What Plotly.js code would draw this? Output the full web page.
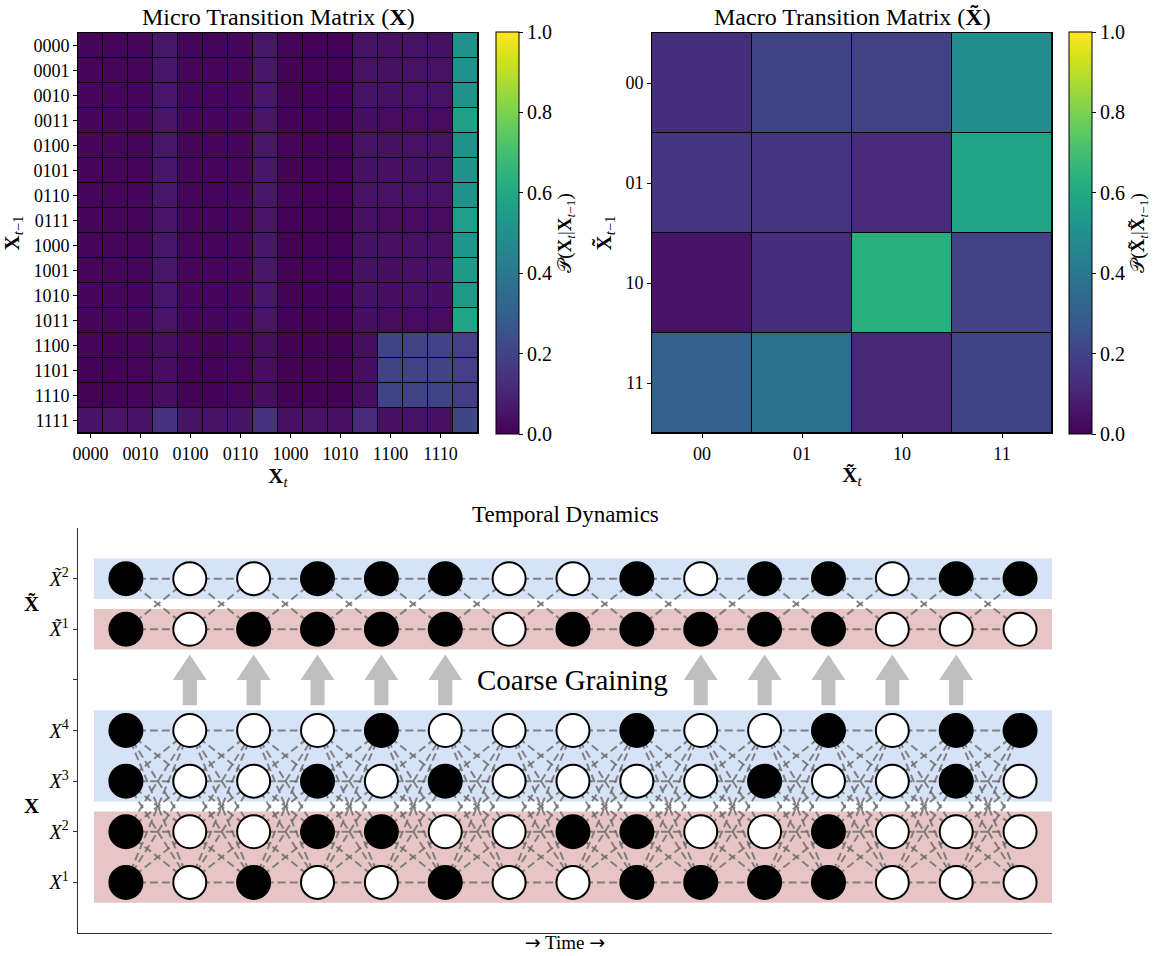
<!DOCTYPE html>
<html><head><meta charset="utf-8">
<script src="https://cdn.plot.ly/plotly-3.0.1.min.js"></script>
<style>html,body{margin:0;padding:0;background:#fff}</style>
</head><body><div id="chart" style="width:1156px;height:956px"></div>
<script>
// ---------------- data ----------------
const microStates = ['0000','0001','0010','0011','0100','0101','0110','0111','1000','1001','1010','1011','1100','1101','1110','1111'];
const microTickStates = ['0000','0010','0100','0110','1000','1010','1100','1110'];
const macroStates = ['00','01','10','11'];
const colorbarTicks = [0, 0.2, 0.4, 0.6, 0.8, 1.0];

// rows = X_{t-1}, columns = X_t
const microMatrix = [
  [0.015,0.012,0.018,0.058,0.016,0.014,0.018,0.058,0.008,0.006,0.005,0.045,0.042,0.046,0.044,0.50],
  [0.014,0.013,0.017,0.057,0.015,0.015,0.017,0.057,0.007,0.006,0.006,0.046,0.044,0.045,0.046,0.50],
  [0.015,0.012,0.017,0.058,0.016,0.014,0.017,0.058,0.007,0.005,0.006,0.045,0.043,0.045,0.045,0.51],
  [0.014,0.012,0.016,0.052,0.014,0.013,0.016,0.052,0.006,0.005,0.004,0.038,0.030,0.030,0.028,0.57],
  [0.015,0.013,0.018,0.058,0.016,0.014,0.018,0.058,0.008,0.006,0.005,0.045,0.044,0.046,0.045,0.50],
  [0.015,0.012,0.017,0.057,0.015,0.014,0.017,0.057,0.007,0.006,0.005,0.044,0.042,0.044,0.043,0.51],
  [0.015,0.013,0.018,0.058,0.016,0.014,0.018,0.058,0.008,0.006,0.005,0.045,0.045,0.046,0.045,0.50],
  [0.014,0.012,0.016,0.053,0.014,0.013,0.016,0.053,0.006,0.005,0.004,0.040,0.031,0.030,0.030,0.56],
  [0.015,0.012,0.017,0.056,0.015,0.014,0.017,0.056,0.007,0.005,0.005,0.043,0.040,0.042,0.041,0.52],
  [0.014,0.012,0.017,0.056,0.015,0.014,0.017,0.056,0.007,0.005,0.005,0.043,0.038,0.040,0.040,0.53],
  [0.014,0.012,0.017,0.056,0.015,0.014,0.017,0.056,0.007,0.005,0.005,0.043,0.038,0.040,0.039,0.53],
  [0.013,0.011,0.016,0.052,0.014,0.013,0.016,0.052,0.006,0.004,0.004,0.038,0.028,0.028,0.027,0.58],
  [0.008,0.006,0.010,0.036,0.008,0.007,0.010,0.036,0.004,0.002,0.003,0.036,0.200,0.200,0.195,0.180],
  [0.006,0.005,0.008,0.034,0.006,0.006,0.009,0.034,0.003,0.002,0.003,0.034,0.200,0.198,0.200,0.180],
  [0.007,0.005,0.009,0.035,0.007,0.006,0.009,0.035,0.003,0.002,0.003,0.035,0.198,0.200,0.198,0.182],
  [0.050,0.052,0.050,0.140,0.050,0.048,0.050,0.140,0.040,0.045,0.042,0.120,0.042,0.045,0.040,0.205]
];

const macroMatrix = [
  [0.13, 0.20, 0.19, 0.49],
  [0.15, 0.15, 0.12, 0.58],
  [0.05, 0.13, 0.63, 0.19],
  [0.31, 0.37, 0.11, 0.20]
];

// temporal dynamics (1 = black, 0 = white), 15 time steps
const x1States  = [1,0,1,0,0,1,0,0,1,1,1,1,0,0,0];
const x2States  = [1,0,0,1,1,0,0,1,1,0,0,1,0,0,0];
const x3States  = [1,0,0,1,0,1,0,0,0,0,1,0,0,1,0];
const x4States  = [1,0,0,0,1,0,0,0,1,0,0,1,0,1,1];
const xt1States = [1,0,1,1,1,1,0,1,1,1,1,1,0,0,0];
const xt2States = [1,0,0,1,1,1,0,0,1,0,1,1,0,1,1];
const arrowSteps = [1,2,3,4,5,9,10,11,12,13];
const layerTickVals = [0,1,2,3,4,5,6];
const layerTickText = ['<i>X</i><sup>1</sup>','<i>X</i><sup>2</sup>','<i>X</i><sup>3</sup>','<i>X</i><sup>4</sup>','','<i>X̃</i><sup>1</sup>','<i>X̃</i><sup>2</sup>'];

// ---------------- build ----------------
const FONT = 'Liberation Serif, DejaVu Serif, serif';
const W = 1156, H = 956;
const idx = a => a.map((_, i) => i);
const nSteps = x1States.length;
const microLayer = [x1States, x2States, x3States, x4States];   // rows 0..3
const macroLayer = [xt1States, xt2States];                       // rows 5..6
const macroRowY = [5, 6];

function cbar(xpx) {
  return {
    x: xpx / W, xanchor: 'left', xpad: 0, ypad: 0,
    y: (H - 233) / H, yanchor: 'middle',
    len: 402 / H, lenmode: 'fraction',
    thickness: 23, thicknessmode: 'pixels',
    outlinewidth: 1, outlinecolor: '#000',
    ticks: 'outside', ticklen: 4, tickcolor: '#000',
    tickvals: colorbarTicks, ticktext: colorbarTicks.map(v => v.toFixed(1)),
    tickfont: {family: FONT, size: 20, color: '#000'},
    title: {side: 'right', font: {family: FONT, size: 19, color: '#000'}}
  };
}
const cb1 = cbar(496); cb1.title.text = '𝒫(<b>X</b><sub><i>t</i></sub>|<b>X</b><sub><i>t</i>−1</sub>)';
const cb2 = cbar(1069); cb2.title.text = '𝒫(<b>X̃</b><sub><i>t</i></sub>|<b>X̃</b><sub><i>t</i>−1</sub>)';

const microTrace = {
  type: 'heatmap', z: microMatrix, x: idx(microStates), y: idx(microStates),
  colorscale: 'Viridis', zmin: 0, zmax: 1, xgap: 1, ygap: 1,
  xaxis: 'x', yaxis: 'y', colorbar: cb1, hoverinfo: 'z'
};
const macroTrace = {
  type: 'heatmap', z: macroMatrix, x: idx(macroStates), y: idx(macroStates),
  colorscale: 'Viridis', zmin: 0, zmax: 1, xgap: 1, ygap: 1,
  xaxis: 'x2', yaxis: 'y2', colorbar: cb2, hoverinfo: 'z'
};

// connection lines
const lx = [], ly = [];
function seg(x0, y0, x1, y1) { lx.push(x0, x1, null); ly.push(y0, y1, null); }
for (let t = 0; t < nSteps - 1; t++) {
  for (let i = 0; i < microLayer.length; i++)
    for (let j = 0; j < microLayer.length; j++) seg(t, i, t + 1, j);
  for (const a of macroRowY) for (const b of macroRowY) seg(t, a, t + 1, b);
}
const lineTrace = {
  type: 'scatter', mode: 'lines', x: lx, y: ly, xaxis: 'x3', yaxis: 'y3',
  line: {color: 'rgba(105,105,105,0.8)', width: 2, dash: '8px,4px'}, hoverinfo: 'skip'
};

// arrows
const ax = [], ay = [];
const sw = 0.11, hw = 0.265;
for (const c of arrowSteps) {
  ax.push(c - sw, c + sw, c + sw, c + hw, c, c - hw, c - sw, c - sw, null);
  ay.push(3.5, 3.5, 4.0, 4.0, 4.5, 4.0, 4.0, 3.5, null);
}
const arrowTrace = {
  type: 'scatter', mode: 'lines', x: ax, y: ay, xaxis: 'x3', yaxis: 'y3',
  fill: 'toself', fillcolor: '#bfbfbf', line: {width: 0, color: '#bfbfbf'}, hoverinfo: 'skip'
};

// nodes
const nx = [], ny = [], nc = [];
microLayer.forEach((row, r) => row.forEach((s, t) => { nx.push(t); ny.push(r); nc.push(s ? '#000' : '#fff'); }));
macroLayer.forEach((row, r) => row.forEach((s, t) => { nx.push(t); ny.push(macroRowY[r]); nc.push(s ? '#000' : '#fff'); }));
const nodeTrace = {
  type: 'scatter', mode: 'markers', x: nx, y: ny, xaxis: 'x3', yaxis: 'y3',
  marker: {size: 33, color: nc, line: {color: '#000', width: 2}}, hoverinfo: 'skip'
};

const tickFont = {family: FONT, size: 18, color: '#000'};
const frameAxis = {
  showline: true, mirror: true, linecolor: '#000', linewidth: 1,
  ticks: 'outside', ticklen: 4, tickcolor: '#000', showgrid: false, zeroline: false,
  tickfont: tickFont, fixedrange: true
};
const heatTop = [(H - 433) / H, (H - 33) / H];

const bands = [
  {y0: -0.4, y1: 1.4, c: '#e8c5c5'},
  {y0: 1.6, y1: 3.4, c: '#d6e2f6'},
  {y0: 4.6, y1: 5.4, c: '#e8c5c5'},
  {y0: 5.6, y1: 6.4, c: '#d6e2f6'}
];
// black backdrop behind heatmaps so the cell gaps read as black grid lines
const shapes = ['', '2'].map(k => ({
  type: 'rect', xref: 'x' + k + ' domain', yref: 'y' + k + ' domain', x0: 0, x1: 1, y0: 0, y1: 1,
  fillcolor: '#000', line: {width: 0}, layer: 'below'
})).concat(bands.map(b => ({
  type: 'rect', xref: 'x3', yref: 'y3', x0: -0.5, x1: nSteps - 0.5, y0: b.y0, y1: b.y1,
  fillcolor: b.c, line: {width: 0}, layer: 'below'
})));

const annFont = s => ({family: FONT, size: s, color: '#000'});
const ann = (text, x, ypx, size) => ({text, xref: 'paper', yref: 'paper', x: x / W, y: (H - ypx) / H,
  xanchor: 'center', yanchor: 'middle', showarrow: false, font: annFont(size)});
const arrowGlyph = '<span style="font-family:DejaVu Sans">→</span>';
const layout = {
  width: W, height: H,
  margin: {l: 0, r: 0, t: 0, b: 0, autoexpand: false},
  paper_bgcolor: '#fff', plot_bgcolor: '#fff',
  showlegend: false, font: {family: FONT, color: '#000'},
  xaxis: Object.assign({}, frameAxis, {
    domain: [78 / W, 478 / W], anchor: 'y', range: [-0.5, 15.5],
    tickvals: microTickStates.map(s => microStates.indexOf(s)), ticktext: microTickStates,
    title: {text: '<b>X</b><sub><i>t</i></sub>', font: annFont(21), standoff: 0}
  }),
  yaxis: Object.assign({}, frameAxis, {
    domain: heatTop, anchor: 'x', range: [15.5, -0.5],
    tickvals: idx(microStates), ticktext: microStates,
    title: {text: '<b>X</b><sub><i>t</i>−1</sub>', font: annFont(21), standoff: 8}
  }),
  xaxis2: Object.assign({}, frameAxis, {
    domain: [652 / W, 1052 / W], anchor: 'y2', range: [-0.5, 3.5],
    tickvals: idx(macroStates), ticktext: macroStates,
    title: {text: '<b>X̃</b><sub><i>t</i></sub>', font: annFont(21), standoff: 4}
  }),
  yaxis2: Object.assign({}, frameAxis, {
    domain: heatTop, anchor: 'x2', range: [3.5, -0.5],
    tickvals: idx(macroStates), ticktext: macroStates,
    title: {text: '<b>X̃</b><sub><i>t</i>−1</sub>', font: annFont(21), standoff: 8}
  }),
  xaxis3: {
    domain: [78 / W, 1052 / W], anchor: 'y3', range: [-0.75, nSteps - 0.5],
    showline: true, linecolor: '#333', linewidth: 1.3, mirror: false,
    ticks: '', showticklabels: false, showgrid: false, zeroline: false, fixedrange: true,
    title: {text: arrowGlyph + ' Time ' + arrowGlyph, font: annFont(19), standoff: 2}
  },
  yaxis3: {
    domain: [(H - 933) / H, (H - 528) / H], anchor: 'x3', range: [-1, 7],
    showline: true, linecolor: '#333', linewidth: 1.3, mirror: false,
    ticks: 'outside', ticklen: 4, tickcolor: '#333', showgrid: false, zeroline: false, fixedrange: true,
    tickvals: layerTickVals, ticktext: layerTickText, tickfont: annFont(20)
  },
  shapes: shapes,
  annotations: [
    ann('Micro Transition Matrix (<b>X</b>)', 278, 17, 24),
    ann('Macro Transition Matrix (<b>X̃</b>)', 852, 17, 24),
    ann('Temporal Dynamics', 565, 514, 23),
    {text: 'Coarse Graining', xref: 'x3', yref: 'y3', x: 7, y: 4,
     showarrow: false, font: annFont(29)},
    {text: '<b>X̃</b>', xref: 'paper', yref: 'y3', x: 22 / W, y: 5.5, showarrow: false, font: annFont(21)},
    {text: '<b>X</b>', xref: 'paper', yref: 'y3', x: 22 / W, y: 1.5, showarrow: false, font: annFont(21)}
  ]
};

Plotly.newPlot('chart', [microTrace, macroTrace, lineTrace, arrowTrace, nodeTrace], layout,
  {displayModeBar: false, staticPlot: true});
</script></body></html>
